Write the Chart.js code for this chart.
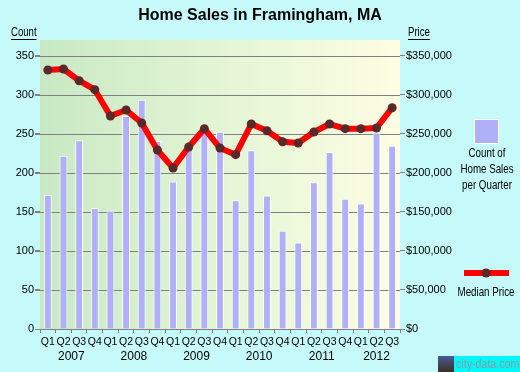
<!DOCTYPE html>
<html>
<head>
<meta charset="utf-8">
<script src="https://cdn.jsdelivr.net/npm/chart.js@4.4.1/dist/chart.umd.min.js"></script>
<style>
  html, body { margin: 0; padding: 0; background: #c6f9f9; }
  #wrap { width: 520px; height: 372px; position: relative; }
</style>
</head>
<body>
<div id="wrap"><canvas id="grafik" width="520" height="372"></canvas></div>
<script>
const quarters = ['Q1','Q2','Q3','Q4','Q1','Q2','Q3','Q4','Q1','Q2','Q3','Q4',
                  'Q1','Q2','Q3','Q4','Q1','Q2','Q3','Q4','Q1','Q2','Q3'];
const years = ['2007','2008','2009','2010','2011','2012'];
const quartersPerYear = [4, 4, 4, 4, 4, 3];
const salesCount = [172, 222, 242, 155, 152, 273, 294, 241, 189, 232, 262, 253,
                    165, 229, 171, 126, 111, 188, 227, 167, 161, 252, 235];
const medianPrice = [332000, 333300, 318300, 306800, 273100, 280800, 264100, 229500,
                     206400, 233300, 256800, 232000, 223500, 262800, 254200, 240100,
                     238500, 252600, 262800, 256800, 256800, 257700, 283700];
const countTicks = [0, 50, 100, 150, 200, 250, 300, 350];
const priceTicks = [0, 50000, 100000, 150000, 200000, 250000, 300000, 350000];

const sans = '"Liberation Sans", Arial, sans-serif';
const BAR = '#b0b0f8';
const DOT = '#5a2828';

// narrow text: squeeze horizontally like the original's condensed font
function narrowText(c, txt, x, y, sx) {
    c.save();
    c.translate(x, y);
    c.scale(sx, 1);
    c.fillText(txt, 0, 0);
    c.restore();
}

// background gradient, title, year labels, legend, logo
const decor = {
    id: 'decor',
    beforeDatasetsDraw(chart) {
        const a = chart.chartArea, c = chart.ctx;
        c.save();
        const g = c.createLinearGradient(a.left, 0, a.right, 0);
        g.addColorStop(0, '#c8e8c4');
        g.addColorStop(0.5, '#e4f5d6');
        g.addColorStop(1, '#fdfde2');
        c.fillStyle = g;
        c.fillRect(a.left, a.top, a.right - a.left, a.bottom - a.top);
        // grid lines on top of the fill
        const y = chart.scales.y;
        c.strokeStyle = '#808080';
        c.lineWidth = 1;
        countTicks.forEach(v => {
            const py = Math.round(y.getPixelForValue(v)) + 0.5;
            c.beginPath(); c.moveTo(a.left - 5, py); c.lineTo(a.right, py); c.stroke();
        });
        c.restore();
    },
    afterDraw(chart) {
        const c = chart.ctx, x = chart.scales.x;
        c.save();
        c.fillStyle = '#000';
        c.textAlign = 'center';
        c.textBaseline = 'middle';
        c.font = 'bold 16px ' + sans;
        c.fillText('Home Sales in Framingham, MA', 260, 16);

        // year labels under the quarters
        c.font = '12px ' + sans;
        let i = 0;
        years.forEach((yr, k) => {
            const n = quartersPerYear[k];
            const mid = (x.getPixelForValue(i) + x.getPixelForValue(i + n - 1)) / 2;
            c.fillText(yr, mid, 357);
            i += n;
        });

        // axis titles
        c.font = '12px ' + sans;
        c.textAlign = 'left';
        narrowText(c, 'Count', 11, 33, 0.8);
        narrowText(c, 'Price', 408, 33, 0.8);
        c.fillRect(11, 39, c.measureText('Count').width * 0.8, 1);
        c.fillRect(408, 39, c.measureText('Price').width * 0.8, 1);

        // legend: bars
        c.fillStyle = '#fff';
        c.fillRect(474, 119, 25, 25);
        c.fillStyle = BAR;
        c.fillRect(475, 120, 23, 23);
        c.fillStyle = '#000';
        c.textAlign = 'center';
        c.font = '12.5px ' + sans;
        narrowText(c, 'Count of', 487, 154, 0.78);
        narrowText(c, 'Home Sales', 487, 170, 0.78);
        narrowText(c, 'per Quarter', 487, 186, 0.78);

        // legend: line
        c.fillStyle = '#ff0000';
        c.fillRect(464, 270, 45, 6);
        c.fillStyle = DOT;
        c.beginPath(); c.arc(486, 273, 4.5, 0, Math.PI * 2); c.fill();
        c.fillStyle = '#000';
        narrowText(c, 'Median Price', 486, 293, 0.78);

        // logo
        const lg = c.createLinearGradient(0, 356, 0, 372);
        lg.addColorStop(0, '#4a5a9a');
        lg.addColorStop(1, '#3a3020');
        c.fillStyle = lg;
        c.fillRect(438, 356, 16, 16);
        c.fillStyle = '#00f8f8';
        c.fillRect(454, 356, 66, 16);
        c.fillStyle = '#8a9aa8';
        c.textAlign = 'left';
        c.font = '13px ' + sans;
        narrowText(c, 'city-data.com', 456, 364, 0.82);
        c.restore();
    }
};

new Chart(document.getElementById('grafik'), {
    data: {
        labels: quarters,
        datasets: [{
            type: 'line',
            label: 'Median Price',
            data: medianPrice,
            yAxisID: 'y2',
            borderColor: '#ff0000',
            borderWidth: 6,
            borderJoinStyle: 'round',
            borderCapStyle: 'round',
            pointRadius: 4.5,
            pointBackgroundColor: DOT,
            pointBorderWidth: 0,
            tension: 0,
            order: 0
        }, {
            type: 'bar',
            label: 'Count of Home Sales per Quarter',
            data: salesCount,
            yAxisID: 'y',
            backgroundColor: BAR,
            borderColor: '#ffffff',
            borderWidth: { top: 1, left: 1, right: 1, bottom: 0 },
            borderSkipped: 'bottom',
            barPercentage: 0.5,
            categoryPercentage: 1,
            order: 1
        }]
    },
    options: {
        responsive: false,
        animation: false,
        events: [],
        layout: { padding: { top: 40, left: 0, right: 0, bottom: 0 } },
        plugins: { legend: { display: false }, tooltip: { enabled: false } },
        scales: {
            x: {
                offset: true,
                grid: { offset: true, drawOnChartArea: false, tickLength: 4, color: '#808080' },
                border: { display: false },
                ticks: { color: '#000', font: { family: sans, size: 10.5 }, padding: 3, maxRotation: 0, autoSkip: false },
                afterFit(s) { s.height = 43; }
            },
            y: {
                position: 'left',
                min: 0,
                max: 370.5,
                grid: { drawOnChartArea: false, tickLength: 5, color: '#808080' },
                border: { display: false },
                ticks: { color: '#000', font: { family: sans, size: 11 }, padding: 1 },
                afterBuildTicks(s) { s.ticks = countTicks.map(v => ({ value: v })); },
                afterFit(s) { s.width = 40; }
            },
            y2: {
                position: 'right',
                min: 0,
                max: 370500,
                grid: { drawOnChartArea: false, tickLength: 5, color: '#808080' },
                border: { display: false },
                ticks: {
                    color: '#000', font: { family: sans, size: 11 }, padding: 1,
                    callback: v => '$' + v.toLocaleString('en-US')
                },
                afterBuildTicks(s) { s.ticks = priceTicks.map(v => ({ value: v })); },
                afterFit(s) { s.width = 120; }
            }
        }
    },
    plugins: [decor]
});
</script>
</body>
</html>
